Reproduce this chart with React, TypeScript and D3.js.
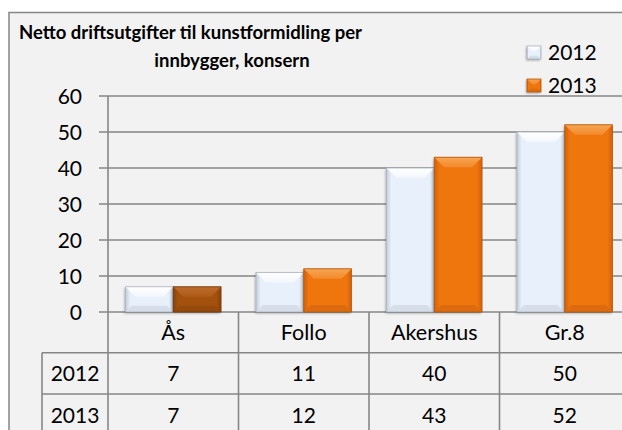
import React from 'react'
import * as d3 from 'd3'

// data
const categories = ['Ås', 'Follo', 'Akershus', 'Gr.8']
const years = ['2012', '2013']
const values2012 = [7, 11, 40, 50]
const values2013 = [7, 12, 43, 52]
const yTicks = [0, 10, 20, 30, 40, 50, 60]
const titleLines = ['Netto driftsutgifter til kunstformidling per', 'innbygger, konsern']

const W = 622
const H = 430
const FONT = 'Lato, "Noto Sans", sans-serif'

// bevel palettes per series (Ås 2013 is drawn darker in the source)
const palettes = {
  p12: { base: '#e8f0fb', top1: '#ffffff', top2: '#f3f7fc', side: '#c3ccd8', bottom: '#d6dee9', line: '#aab2bd' },
  p13: { base: '#ef7410', top1: '#f8a552', top2: '#f38a2c', side: '#cf600c', bottom: '#dc6a0f', line: '#b4570b' },
  pdk: { base: '#a4510f', top1: '#bd6a2b', top2: '#ae5b1a', side: '#86410a', bottom: '#944a0d', line: '#733809' },
}
type PalKey = keyof typeof palettes

function Bevel({ x, y, w, h, k }: { x: number; y: number; w: number; h: number; k: PalKey }) {
  const p = palettes[k]
  const bt = Math.min(10, h / 2.5)
  const bb = Math.min(7, h / 4)
  return (
    <g>
      <rect x={x} y={y} width={w} height={h} fill={`url(#side-${k})`} filter="url(#shadow)" />
      <polygon points={`${x},${y + h} ${x + bb},${y + h - bb} ${x + w - bb},${y + h - bb} ${x + w},${y + h}`} fill={p.bottom} />
      <polygon points={`${x},${y} ${x + w},${y} ${x + w - bt},${y + bt} ${x + bt},${y + bt}`} fill={`url(#top-${k})`} />
      <rect x={x} y={y} width={w} height={h} fill="none" stroke={p.line} strokeWidth={0.8} />
    </g>
  )
}

export default function App() {
  const left = 108
  const catW = 130.5
  const top = 96
  const zeroY = 312

  const x = d3.scaleBand<string>().domain(categories).range([left, left + catW * categories.length]).paddingInner(0).paddingOuter(0)
  const inner = d3.scaleBand<string>().domain(years).range([0, x.bandwidth()]).paddingInner(0).paddingOuter(0.365)
  const y = d3.scaleLinear().domain([0, 60]).range([zeroY, top])

  const series = [values2012, values2013]
  const row1 = 352.7
  const row2 = 394
  const tableLeft = 42
  const grid = '#868686'

  return (
    <svg width={W} height={H} style={{ position: 'absolute', left: 0, top: 0, background: '#fff' }}>
      <defs>
        <filter id="shadow" x="-20%" y="-20%" width="140%" height="140%">
          <feDropShadow dx={-1} dy={1.5} stdDeviation={1.2} floodColor="#000" floodOpacity={0.3} />
        </filter>
        {(Object.keys(palettes) as PalKey[]).map(k => (
          <React.Fragment key={k}>
            <linearGradient id={`side-${k}`} x1="0" x2="1" y1="0" y2="0">
              <stop offset="0" stopColor={palettes[k].side} />
              <stop offset="0.1" stopColor={palettes[k].base} />
              <stop offset="0.9" stopColor={palettes[k].base} />
              <stop offset="1" stopColor={palettes[k].side} />
            </linearGradient>
            <linearGradient id={`top-${k}`} x1="0" x2="0" y1="0" y2="1">
              <stop offset="0" stopColor={palettes[k].top1} />
              <stop offset="1" stopColor={palettes[k].top2} />
            </linearGradient>
          </React.Fragment>
        ))}
      </defs>

      <rect x={9} y={12.5} width={W} height={H} fill="#f2f2f2" stroke={grid} strokeWidth={1.5} />

      {/* title */}
      <text x={19} y={39} fontFamily={FONT} fontWeight={700} fontSize={18.5} fill="#000">{titleLines[0]}</text>
      <text x={232} y={67} textAnchor="middle" fontFamily={FONT} fontWeight={700} fontSize={18.5} fill="#000">{titleLines[1]}</text>

      {/* gridlines and y ticks */}
      {yTicks.map(t => (
        <g key={t}>
          <line x1={99} x2={W} y1={y(t)} y2={y(t)} stroke={grid} strokeWidth={1.6} />
          <text x={82} y={y(t)} dy="0.36em" textAnchor="end" fontFamily={FONT} fontSize={21} fill="#000">{t}</text>
        </g>
      ))}
      <line x1={left} x2={left} y1={top} y2={H} stroke={grid} strokeWidth={1.6} />

      {/* bars */}
      {categories.map((c, i) =>
        years.map((yr, s) => {
          const v = series[s][i]
          const k: PalKey = s === 0 ? 'p12' : i === 0 ? 'pdk' : 'p13'
          return <Bevel key={c + yr} x={x(c)! + inner(yr)!} y={y(v)} w={inner.bandwidth()} h={y(0) - y(v)} k={k} />
        })
      )}

      {/* data table */}
      {categories.map((c, i) => (
        <g key={c}>
          <line x1={x(c)! + catW} x2={x(c)! + catW} y1={zeroY} y2={H} stroke={grid} strokeWidth={1.6} />
          <text x={x(c)! + catW / 2} y={(zeroY + row1) / 2} dy="0.36em" textAnchor="middle" fontFamily={FONT} fontSize={21.5}>{c}</text>
          <text x={x(c)! + catW / 2} y={(row1 + row2) / 2} dy="0.36em" textAnchor="middle" fontFamily={FONT} fontSize={21}>{values2012[i]}</text>
          <text x={x(c)! + catW / 2} y={row2 + 21} dy="0.36em" textAnchor="middle" fontFamily={FONT} fontSize={21}>{values2013[i]}</text>
        </g>
      ))}
      <line x1={tableLeft} x2={W} y1={row1} y2={row1} stroke={grid} strokeWidth={1.6} />
      <line x1={tableLeft} x2={W} y1={row2} y2={row2} stroke={grid} strokeWidth={1.6} />
      <line x1={tableLeft} x2={tableLeft} y1={row1} y2={H} stroke={grid} strokeWidth={1.6} />
      <text x={75} y={(row1 + row2) / 2} dy="0.36em" textAnchor="middle" fontFamily={FONT} fontSize={21}>{years[0]}</text>
      <text x={75} y={row2 + 21} dy="0.36em" textAnchor="middle" fontFamily={FONT} fontSize={21}>{years[1]}</text>

      {/* legend */}
      {years.map((yr, s) => (
        <g key={yr}>
          <Bevel x={527} y={46 + s * 33} w={14} h={13} k={s === 0 ? 'p12' : 'p13'} />
          <text x={548} y={52.5 + s * 33} dy="0.36em" fontFamily={FONT} fontSize={21}>{yr}</text>
        </g>
      ))}
    </svg>
  )
}
